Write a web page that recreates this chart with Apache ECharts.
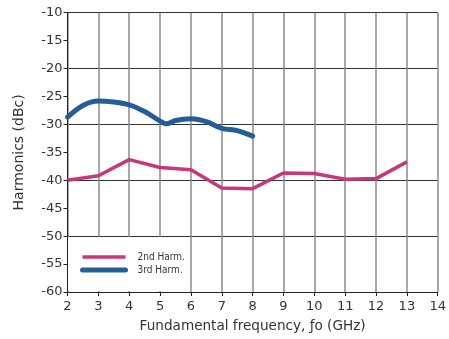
<!DOCTYPE html>
<html>
<head>
<meta charset="utf-8">
<script src="https://cdn.jsdelivr.net/npm/echarts@6/dist/echarts.min.js"></script>
<style>
  html, body { margin: 0; padding: 0; background: #fff; }
  #chart { width: 449px; height: 339px; }
</style>
</head>
<body>
<div id="chart"></div>
<script>
// 2nd harmonic, measured at each integer GHz
const freq2nd = [2, 3, 4, 5, 6, 7, 8, 9, 10, 11, 12, 13];
const harm2nd = [-40.0, -39.2, -36.3, -37.7, -38.1, -41.4, -41.5, -38.7, -38.8, -39.8, -39.7, -36.7];

// 3rd harmonic, sampled more finely up to 8 GHz
const freq3rd = [2, 2.5, 3, 3.5, 4, 4.5, 5, 5.2, 5.5, 6, 6.5, 7, 7.5, 8];
const harm3rd = [-28.7, -26.6, -25.8, -26.0, -26.5, -27.7, -29.4, -29.9, -29.3, -29.0, -29.5, -30.7, -31.1, -32.1];

const seriesNames = ['2nd Harm.', '3rd Harm.'];
const xTitle = 'Fundamental frequency, ƒo (GHz)';
const yTitle = 'Harmonics (dBc)';

const pair = (xs, ys) => xs.map((x, i) => [x, ys[i]]);

const font = 'DejaVu Sans';
const textColor = '#333';

const chart = echarts.init(document.getElementById('chart'), null, { renderer: 'canvas' });
chart.setOption({
  animation: false,
  backgroundColor: '#fff',
  grid: { left: 67.5, right: 9, top: 12.7, bottom: 47, containLabel: false },
  legend: {
    orient: 'vertical',
    left: 68,
    top: 237,
    padding: [15, 3, 16, 12],
    backgroundColor: '#fff',
    itemWidth: 43,
    itemHeight: 10,
    itemGap: 3,
    itemStyle: { opacity: 0 },
    lineStyle: { width: 'inherit' },
    textStyle: {
      fontFamily: 'DejaVu Sans Condensed',
      fontSize: 10,
      lineHeight: 10,
      color: textColor,
      padding: [0, 0, 0, 7]
    },
    data: seriesNames
  },
  xAxis: {
    type: 'value',
    min: 2,
    max: 14,
    interval: 1,
    name: xTitle,
    nameLocation: 'middle',
    nameGap: 27,
    nameTextStyle: { fontFamily: font, fontSize: 13.6, color: textColor },
    axisLine: { show: true, lineStyle: { color: '#222', width: 1 } },
    axisTick: { show: true, inside: false, length: 4, lineStyle: { color: '#222' } },
    axisLabel: { fontFamily: font, fontSize: 13, color: textColor, margin: 8 },
    splitLine: { show: true, lineStyle: { color: '#8a8a8a', width: 1.5 } }
  },
  yAxis: [
    {
      type: 'value',
      min: -60,
      max: -10,
      interval: 5,
      name: yTitle,
      nameLocation: 'middle',
      nameGap: 41,
      nameTextStyle: { fontFamily: font, fontSize: 14, color: textColor },
      axisLine: { show: true, lineStyle: { color: '#222', width: 1 } },
      axisTick: { show: true, inside: false, length: 4, lineStyle: { color: '#222' } },
      axisLabel: { fontFamily: font, fontSize: 13, color: textColor, margin: 5 },
      splitLine: { show: false }
    },
    {
      // major gridlines every 10 dBc
      type: 'value',
      min: -60,
      max: -10,
      interval: 10,
      position: 'left',
      axisLine: { show: false },
      axisTick: { show: false },
      axisLabel: { show: false },
      splitLine: { show: true, lineStyle: { color: '#333', width: 1 } }
    }
  ],
  series: [
    {
      name: seriesNames[0],
      type: 'line',
      data: pair(freq2nd, harm2nd),
      symbol: 'none',
      lineStyle: { color: '#c8377b', width: 3.5, join: 'round', cap: 'butt' },
      itemStyle: { color: '#c8377b' },
      z: 3
    },
    {
      name: seriesNames[1],
      type: 'line',
      data: pair(freq3rd, harm3rd),
      symbol: 'none',
      smooth: 0.35,
      lineStyle: { color: '#245e98', width: 5, join: 'round', cap: 'round' },
      itemStyle: { color: '#245e98' },
      z: 4
    }
  ]
});
</script>
</body>
</html>
